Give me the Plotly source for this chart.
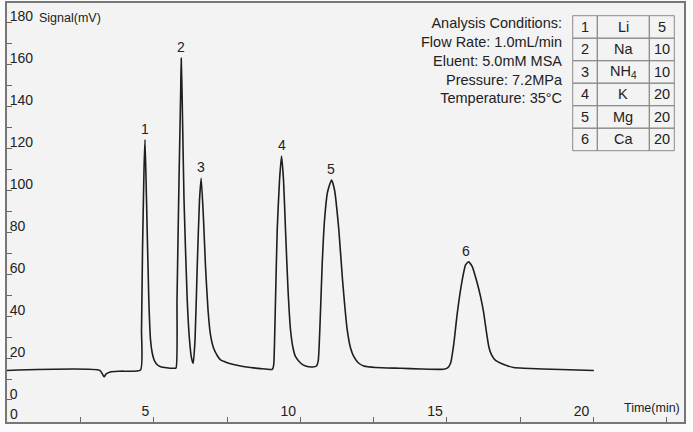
import plotly.graph_objects as go

# ---------------- data ----------------
time_min = [0.00, 3.17, 3.31, 3.38, 3.52, 3.87, 4.552, 4.586, 4.620, 4.671, 4.705,
            4.756, 4.835, 4.893, 4.951, 5.029, 5.131, 5.234, 5.438, 5.677, 5.762,
            5.796, 5.864, 5.922, 5.939, 5.973, 6.035, 6.144, 6.222, 6.290, 6.348,
            6.410, 6.485, 6.563, 6.621, 6.700, 6.768, 6.853, 6.938, 7.041, 7.177,
            7.280, 7.484, 7.723, 7.961, 8.302, 8.643, 9.035, 9.070, 9.097, 9.154,
            9.212, 9.291, 9.359, 9.427, 9.495, 9.581, 9.666, 9.751, 9.837, 10.007,
            10.178, 10.417, 10.552, 10.610, 10.689, 10.747, 10.825, 10.928,
            11.064, 11.166, 11.313, 11.439, 11.599, 11.712, 11.824, 11.984, 12.165,
            12.564, 13.416, 14.098, 14.893, 15.019, 15.121, 15.234, 15.350, 15.520,
            15.633, 15.735, 15.861, 16.032, 16.144, 16.246, 16.349, 16.427, 16.519,
            16.655, 16.938, 17.269, 17.620, 18.872, 20.007]
signal_mv = [14.07, 14.07, 11.11, 12.40, 13.35, 13.73, 14.31, 33.38, 71.53, 109.68, 124.23,
             95.37, 47.69, 28.61, 22.41, 18.60, 16.69, 15.88, 15.36, 15.12, 15.26,
             47.69, 104.91, 147.83, 162.95, 143.06, 95.37, 47.69, 28.61, 20.03, 17.50,
             28.61, 63.57, 95.37, 105.72, 85.84, 63.57, 42.92, 31.00, 24.80, 20.98,
             19.08, 17.88, 16.93, 16.21, 15.50, 14.93, 14.54, 15.26, 17.50, 47.69,
             81.07, 104.91, 116.36, 104.91, 81.07, 52.46, 33.38, 24.80, 20.65, 17.64,
             16.21, 15.74, 16.21, 18.60, 42.92, 65.33, 85.84, 99.19,
             104.91, 100.14, 81.07, 57.22, 33.38, 24.80, 20.65, 17.64, 16.21,
             15.50, 15.12, 14.78, 14.64, 15.26, 17.50, 27.04, 41.34, 57.22,
             64.38, 65.95, 63.57, 55.65, 49.26, 41.96, 31.95, 25.27, 21.46,
             18.84, 16.93, 15.50, 15.12, 14.54, 14.07]

peak_ids = ["1", "2", "3", "4", "5", "6"]
peak_time = [4.70, 5.94, 6.62, 9.36, 11.06, 15.65]
peak_signal = [124.2, 163.0, 105.7, 116.4, 104.9, 66.0]

ion_no = ["1", "2", "3", "4", "5", "6"]
ion_name = ["Li", "Na", "NH<sub>4</sub>", "K", "Mg", "Ca"]
ion_conc = ["5", "10", "10", "20", "20", "20"]

conditions = ["Analysis Conditions:", "Flow Rate: 1.0mL/min", "Eluent: 5.0mM MSA",
              "Pressure: 7.2MPa", "Temperature: 35°C"]

y_label = "Signal(mV)"
x_label = "Time(min)"

# ---------------- layout constants ----------------
W, H = 693, 432
ML, MR, MT, MB = 7, 9, 3, 10
PW, PH = W - ML - MR, H - MT - MB
FONT = "Liberation Sans, Arial, Helvetica, sans-serif"
TXT = "#222222"


def px(x):
    return (x - ML) / PW


def py(y):
    return (H - MB - y) / PH


fig = go.Figure()
fig.add_trace(go.Scatter(x=time_min, y=signal_mv, mode="lines",
                         line=dict(color="#1e1e1e", width=1.6, shape="spline", smoothing=0.5),
                         hoverinfo="skip", showlegend=False))

annotations = []
for pid, t, v in zip(peak_ids, peak_time, peak_signal):
    annotations.append(dict(x=t, y=v, xref="x", yref="y", text=pid, showarrow=False,
                            yanchor="middle", yshift=11,
                            font=dict(family=FONT, size=14, color=TXT)))

annotations.append(dict(x=px(37), y=py(18), xref="paper", yref="paper", text=y_label,
                        showarrow=False, xanchor="left", yanchor="middle",
                        font=dict(family=FONT, size=12.5, color=TXT)))
annotations.append(dict(x=px(682), y=py(408), xref="paper", yref="paper", text=x_label,
                        showarrow=False, xanchor="right", yanchor="middle",
                        font=dict(family=FONT, size=12.5, color=TXT)))
annotations.append(dict(x=0, y=py(414), xref="x", yref="paper", text="0",
                        showarrow=False, xanchor="left", yanchor="middle", xshift=1,
                        font=dict(family=FONT, size=14, color=TXT)))

annotations.append(dict(x=px(565), y=py(13), xref="paper", yref="paper",
                        text="<br>".join(conditions), showarrow=False,
                        xanchor="right", yanchor="top", align="right",
                        font=dict(family=FONT, size=14.5, color=TXT)))

# table
col_edges = [572.7, 597.3, 649.3, 674.3]
row_top, row_h = 15.7, 22.5
shapes = []
for r in range(len(ion_no)):
    y0 = row_top + r * row_h
    y1 = y0 + row_h
    for c in range(3):
        shapes.append(dict(type="rect", xref="paper", yref="paper",
                           x0=px(col_edges[c]), x1=px(col_edges[c + 1]),
                           y0=py(y1), y1=py(y0),
                           line=dict(color="#8a8a8a", width=1)))
    for c, vals in enumerate([ion_no, ion_name, ion_conc]):
        annotations.append(dict(x=px((col_edges[c] + col_edges[c + 1]) / 2),
                                y=py((y0 + y1) / 2), xref="paper", yref="paper",
                                text=vals[r], showarrow=False,
                                xanchor="center", yanchor="middle",
                                font=dict(family=FONT, size=14.5, color=TXT)))

fig.update_layout(
    width=W, height=H,
    margin=dict(l=ML, r=MR, t=MT, b=MB, pad=0, autoexpand=False),
    paper_bgcolor="#fbfbfb", plot_bgcolor="#f3f3f3",
    font=dict(family=FONT, size=14, color=TXT),
    showlegend=False,
    annotations=annotations, shapes=shapes,
    xaxis=dict(range=[0, 23.08], showgrid=False, zeroline=False, automargin=False,
               showline=True, mirror=True, linecolor="#777777", linewidth=1.5,
               tickmode="linear", tick0=0, dtick=5,
               ticks="inside", ticklen=5, tickcolor="#666666", tickwidth=1,
               ticklabelposition="inside left", ticklabelshift=-3,
               tickfont=dict(family=FONT, size=14, color=TXT),
               minor=dict(ticks="inside", ticklen=5, dtick=2.5, tick0=0,
                          tickcolor="#666666", tickwidth=1)),
    yaxis=dict(range=[-10.5, 189.3], showgrid=False, zeroline=False, automargin=False,
               showline=True, mirror=True, linecolor="#777777", linewidth=1.5,
               tickmode="linear", tick0=0, dtick=20,
               ticks="inside", ticklen=5, tickcolor="#666666", tickwidth=1,
               ticklabelposition="inside top", ticklabelshift=4, ticklabelstandoff=2,
               ticklabeloverflow="allow",
               tickfont=dict(family=FONT, size=14, color=TXT),
               minor=dict(ticks="inside", ticklen=5, dtick=10, tick0=0,
                          tickcolor="#666666", tickwidth=1)),
)

fig.write_html("out.html", config={"displayModeBar": False},
               post_script="document.body.style.margin='0';document.body.style.padding='0';")
